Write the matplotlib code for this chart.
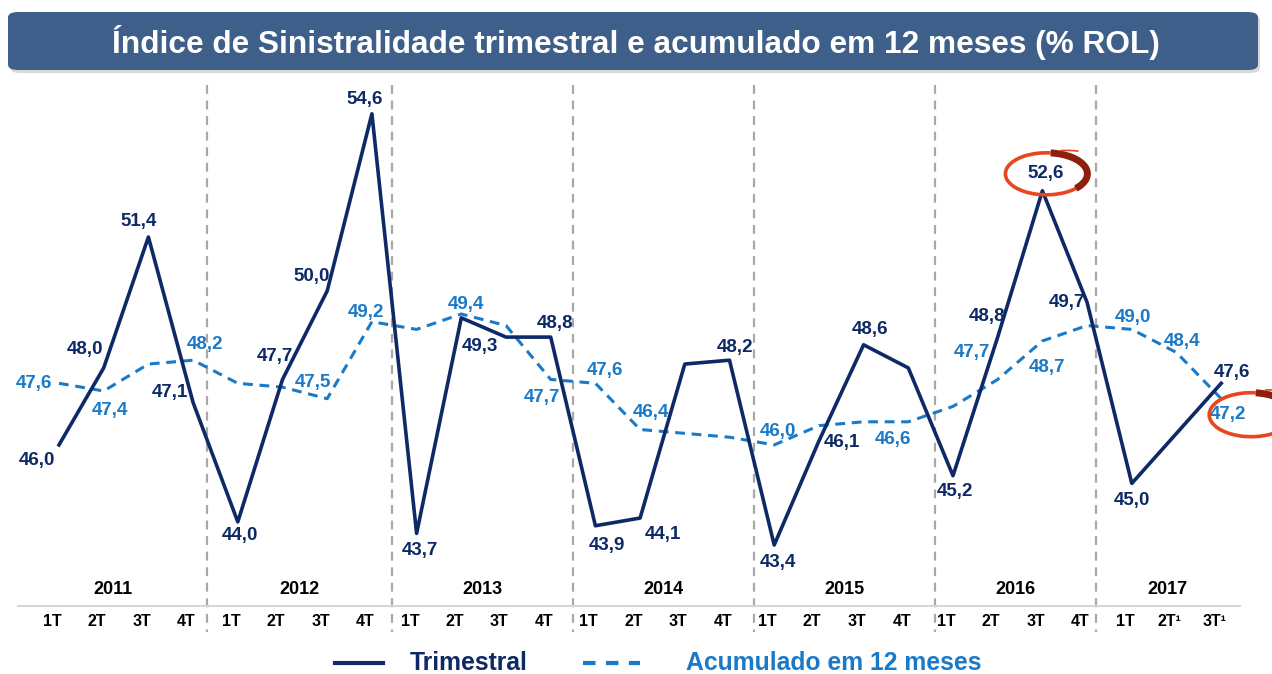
import matplotlib.pyplot as plt
from matplotlib.patches import FancyBboxPatch, Arc
from matplotlib.lines import Line2D

# quarters 2011 1T .. 2017 3T
quarters = ['1T', '2T', '3T', '4T'] * 6 + ['1T', '2T¹', '3T¹']
years = ['2011', '2012', '2013', '2014', '2015', '2016', '2017']

trimestral = [46.0, 48.0, 51.4, 47.1,
              44.0, 47.7, 50.0, 54.6,
              43.7, 49.3, 48.8, 48.8,
              43.9, 44.1, 48.1, 48.2,
              43.4, 46.1, 48.6, 48.0,
              45.2, 48.8, 52.6, 49.7,
              45.0, 46.3, 47.6]

acumulado = [47.6, 47.4, 48.1, 48.2,
             47.6, 47.5, 47.2, 49.2,
             49.0, 49.4, 49.1, 47.7,
             47.6, 46.4, 46.3, 46.2,
             46.0, 46.5, 46.6, 46.6,
             47.0, 47.7, 48.7, 49.1,
             49.0, 48.4, 47.2]

# label offsets in pixels (dx, dy down) for the points that carry a value label
trim_labels = {0: (-22, 16), 1: (-19, -18), 2: (-10, -16), 3: (-23, -10),
               4: (2, 14), 5: (-8, -23), 6: (-16, -14), 7: (-7, -14),
               8: (3, 17), 9: (19, 29), 11: (4, -14), 12: (12, 20),
               13: (23, 16), 15: (6, -13), 16: (4, 17), 17: (23, 1),
               18: (6, -15), 20: (2, 16), 21: (-11, -21), 22: (3, -17),
               23: (-20, 0), 24: (0, 17), 26: (11, -11)}
acum_labels = {0: (-25, 0), 1: (6, 19), 3: (12, -16), 5: (30, -5),
               7: (-6, -9), 9: (5, -10), 11: (-9, 18), 12: (10, -13),
               13: (11, -17), 16: (4, -13), 19: (-15, 18), 21: (-26, -27),
               22: (5, 27), 24: (1, -12), 25: (6, -11), 26: (7, 16)}

# year blocks (x in quarter units)
bounds = [-0.9, 3.3, 7.45, 11.5, 15.55, 19.6, 23.2, 26.4]

navy = '#0D2A66'
blue = '#1A7AC8'
W, H = 1272, 674
px_x, px_y = 44.7, 38.5

fig = plt.figure(figsize=(W / 100, H / 100), dpi=100)
ax = fig.add_axes([0, 0, 1, 1])
ax.set_xlim(-59 / px_x, (W - 59) / px_x)
ax.set_ylim(43.4 - (H - 545) / px_y, 43.4 + 545 / px_y)
ax.axis('off')
trans = ax.get_xaxis_transform()

def fy(y):
    return 1 - y / H

x = list(range(len(trimestral)))

# year separators
for b in bounds[1:-1]:
    ax.plot([b, b], [fy(85), fy(632)], transform=trans, color='#A8A8A8',
            lw=1.6, ls=(0, (4, 3)), zorder=1)
fig.add_artist(Line2D([18 / W, 1240 / W], [fy(606), fy(606)], color='#D6D6D6', lw=1.5))

ax.plot(x, acumulado, color=blue, lw=2.2, ls=(0, (3.2, 2.2)), zorder=3)
ax.plot(x, trimestral, color=navy, lw=2.6, zorder=4)

font = 'Liberation Sans'
for i, (dx, dy) in trim_labels.items():
    ax.annotate(f'{trimestral[i]:.1f}'.replace('.', ','), (i, trimestral[i]),
                xytext=(dx, -dy), textcoords='offset pixels', ha='center', va='center',
                fontsize=13.5, fontweight='bold', color=navy, family=font, zorder=6)
for i, (dx, dy) in acum_labels.items():
    ax.annotate(f'{acumulado[i]:.1f}'.replace('.', ','), (i, acumulado[i]),
                xytext=(dx, -dy), textcoords='offset pixels', ha='center', va='center',
                fontsize=13.5, fontweight='bold', color=blue, family=font, zorder=6)

# highlight rings
def ring(i, val, dx, dy, w, h):
    cx = i + dx / px_x
    cy = val - dy / px_y
    ax.add_patch(Arc((cx, cy), w / px_x, h / px_y, theta1=80, theta2=380,
                     color='#E8461E', lw=2.6, zorder=7))
    ax.add_patch(Arc((cx, cy), w / px_x, h / px_y, theta1=-30, theta2=80,
                     color='#8E1F0D', lw=5, zorder=7))
    ax.add_patch(Arc((cx + 20 / px_x, cy - 6 / px_y), 1.3 * w / px_x, 1.4 * h / px_y,
                     theta1=70, theta2=100, color='#E8461E', lw=1.2, zorder=7))

ring(22, trimestral[22], 4, -17, 82, 42)
ring(26, acumulado[26], 30, 16, 84, 44)

# axis labels
for i, q in enumerate(quarters):
    ax.text(i - 0.15, fy(622), q, transform=trans, ha='center', va='center',
            fontsize=11.5, fontweight='bold', color='black', family=font)
for k, yr in enumerate(years):
    ax.text((bounds[k] + bounds[k + 1]) / 2, fy(590), yr, transform=trans,
            ha='center', va='center', fontsize=13, fontweight='bold', color='black', family=font)

# title banner
fig.patches.append(FancyBboxPatch((10 / W, fy(73)), 1250 / W, 58 / H,
                                  boxstyle='round,pad=0,rounding_size=0.008',
                                  transform=fig.transFigure, fc='#BFBFBF', ec='none', alpha=0.6))
fig.patches.append(FancyBboxPatch((8 / W, fy(70)), 1250 / W, 58 / H,
                                  boxstyle='round,pad=0,rounding_size=0.008',
                                  transform=fig.transFigure, fc='#3E5F8A', ec='none'))
fig.text(636 / W, fy(42), 'Índice de Sinistralidade trimestral e acumulado em 12 meses (% ROL)',
         ha='center', va='center', fontsize=22.8, fontweight='bold', color='white', family=font)

# legend
fig.add_artist(Line2D([335 / W, 383 / W], [fy(663), fy(663)], color=navy, lw=3))
fig.text(410 / W, fy(663), 'Trimestral', ha='left', va='center', fontsize=17.8,
         fontweight='bold', color=navy, family=font)
fig.add_artist(Line2D([583 / W, 640 / W], [fy(663), fy(663)], color=blue, lw=3,
                      ls=(0, (3, 2.5))))
fig.text(686 / W, fy(663), 'Acumulado em 12 meses', ha='left', va='center', fontsize=17.8,
         fontweight='bold', color=blue, family=font)

plt.savefig('out.png', dpi=100)
